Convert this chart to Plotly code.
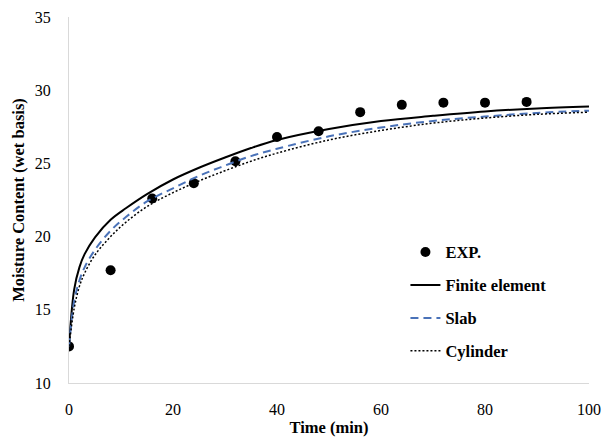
import plotly.graph_objects as go

# Experimental data
exp_time = [0, 8, 16, 24, 32, 40, 48, 56, 64, 72, 80, 88]
exp_mc = [12.5, 17.7, 22.6, 23.65, 25.15, 26.8, 27.2, 28.5, 29.0, 29.15, 29.15, 29.2]

# Model curves
model_time = [0, 1, 2, 3, 5, 8, 11, 15, 20, 25, 30, 35, 40, 50, 60, 70, 80, 90, 100]
finite_mc = [12.5, 16.4, 17.9, 18.8, 19.95, 21.15, 21.95, 22.9, 23.9, 24.7, 25.4, 26.05, 26.6,
             27.35, 27.9, 28.25, 28.55, 28.75, 28.88]
slab_mc = [12.5, 15.6, 17.0, 17.9, 19.1, 20.4, 21.35, 22.4, 23.3, 24.15, 24.85, 25.5, 26.0,
           26.85, 27.45, 27.9, 28.2, 28.45, 28.6]
cyl_mc = [12.5, 15.1, 16.6, 17.5, 18.75, 20.0, 21.0, 22.05, 23.0, 23.8, 24.5, 25.15, 25.7,
          26.6, 27.25, 27.75, 28.1, 28.35, 28.5]

x_ticks = [0, 20, 40, 60, 80, 100]
y_ticks = [10, 15, 20, 25, 30, 35]

FONT = "Liberation Serif"

fig = go.Figure()
fig.add_trace(go.Scatter(x=exp_time, y=exp_mc, mode="markers", name="EXP.",
                         marker=dict(color="black", size=10), legendgroup="a"))
fig.add_trace(go.Scatter(x=model_time, y=finite_mc, mode="lines", name="Finite element",
                         line=dict(color="black", width=2, shape="spline"), legendgroup="b"))
fig.add_trace(go.Scatter(x=model_time, y=slab_mc, mode="lines", name="Slab",
                         line=dict(color="#4a72b8", width=2, dash="8px,5px", shape="spline"),
                         legendgroup="c"))
fig.add_trace(go.Scatter(x=model_time, y=cyl_mc, mode="lines", name="Cylinder",
                         line=dict(color="black", width=1.5, dash="2px,2px", shape="spline"),
                         legendgroup="d"))

fig.update_layout(
    width=605, height=444,
    margin=dict(l=69, r=16, t=17, b=61, autoexpand=False),
    paper_bgcolor="white", plot_bgcolor="white",
    font=dict(family=FONT, size=16, color="black"),
    legend=dict(x=0.647, y=0.405, xanchor="left", yanchor="top",
                bgcolor="rgba(0,0,0,0)", tracegroupgap=8.5,
                font=dict(family=FONT, size=16.5, color="black", weight="bold")),
    xaxis=dict(range=[0, 100], tickvals=x_ticks, showgrid=False, zeroline=False,
               showline=True, linecolor="#d9d9d9", linewidth=1, automargin=False,
               ticks="", ticklabelstandoff=12, tickfont=dict(size=16),
               title=dict(text="<b>Time (min)</b>", standoff=4, font=dict(size=16.5))),
    yaxis=dict(range=[10, 35], tickvals=y_ticks, showgrid=False, zeroline=False,
               showline=True, linecolor="#d9d9d9", linewidth=1, automargin=False,
               ticks="", ticklabelstandoff=14, tickfont=dict(size=16),
               title=dict(text="<b>Moisture Content (wet basis)</b>", standoff=6,
                          font=dict(size=16.5))),
)

fig.write_html("out.html")
